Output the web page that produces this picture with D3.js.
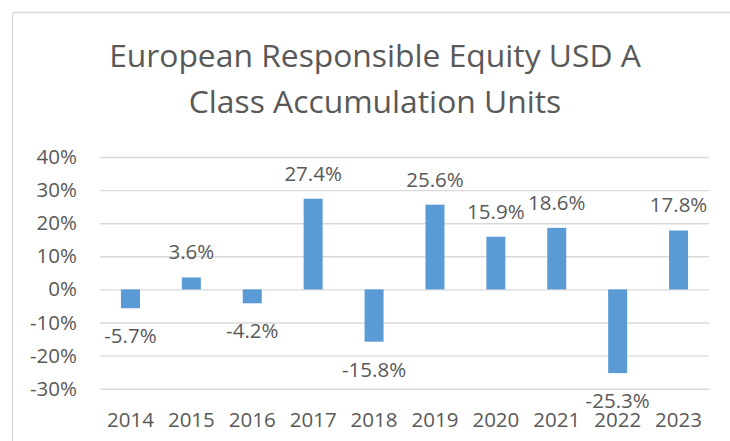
<!DOCTYPE html>
<html>
<head>
<meta charset="utf-8">
<script src="https://cdn.jsdelivr.net/npm/d3@7"></script>
<style>
  html, body { margin: 0; padding: 0; background: #fff; }
  svg { display: block; }
  text { font-family: "Open Sans", "Noto Sans", sans-serif; fill: #595959; }
</style>
</head>
<body>
<svg id="chart" width="730" height="441"></svg>
<script>
const titleLines = ["European Responsible Equity USD A", "Class Accumulation Units"];
const years = ["2014", "2015", "2016", "2017", "2018", "2019", "2020", "2021", "2022", "2023"];
const returns = [-5.7, 3.6, -4.2, 27.4, -15.8, 25.6, 15.9, 18.6, -25.3, 17.8];
const yTicks = [-30, -20, -10, 0, 10, 20, 30, 40];

const svg = d3.select("#chart");

// chart area border
svg.append("rect")
  .attr("x", 12.5).attr("y", 12.5)
  .attr("width", 740).attr("height", 460)
  .attr("rx", 2)
  .attr("fill", "#fff")
  .attr("stroke", "#d9d9d9")
  .attr("stroke-width", 1.3);

// title
svg.append("text")
  .attr("x", 375).attr("y", 67)
  .attr("text-anchor", "middle")
  .style("font-size", "31.8px")
  .selectAll("tspan")
  .data(titleLines)
  .join("tspan")
  .attr("x", 375)
  .attr("dy", (d, i) => i === 0 ? 0 : 46)
  .text(d => d);

const x = d3.scaleBand().domain(years).range([100, 709]).paddingInner(0.688).paddingOuter(0.344);
const y = d3.scaleLinear().domain([-30, 40]).range([388.7, 157]);

// gridlines
const grid = svg.append("g")
  .call(d3.axisLeft(y).tickValues(yTicks).tickSize(-609).tickFormat(""))
  .attr("transform", "translate(100,0)");
grid.select(".domain").remove();
grid.selectAll(".tick line").attr("stroke", "#d9d9d9").attr("stroke-width", 1.4);

// y-axis labels
const yAxis = svg.append("g")
  .attr("transform", "translate(77,0)")
  .call(d3.axisLeft(y).tickValues(yTicks).tickSize(0).tickPadding(0).tickFormat(d => d + "%"));
yAxis.select(".domain").remove();
yAxis.selectAll("text")
  .style("font-size", "20.5px")
  .attr("fill", "#595959")
  .style("font-family", "'Open Sans', sans-serif");

// x-axis labels
const xAxis = svg.append("g")
  .attr("transform", "translate(0,405)")
  .call(d3.axisBottom(x).tickSize(0).tickPadding(0));
xAxis.select(".domain").remove();
xAxis.selectAll("text")
  .style("font-size", "20.5px")
  .attr("fill", "#595959")
  .style("font-family", "'Open Sans', sans-serif")
  .attr("dy", "1.08em");

// bars
const data = years.map((yr, i) => ({ yr, v: returns[i] }));
svg.append("g").selectAll("rect")
  .data(data)
  .join("rect")
  .attr("x", d => x(d.yr))
  .attr("width", x.bandwidth())
  .attr("y", d => y(Math.max(0, d.v)))
  .attr("height", d => Math.abs(y(d.v) - y(0)))
  .attr("fill", "#5b9bd5");

// data labels
svg.append("g").selectAll("text")
  .data(data)
  .join("text")
  .attr("x", d => x(d.yr) + x.bandwidth() / 2)
  .attr("y", d => d.v >= 0 ? y(d.v) - 18 : y(d.v) + 35)
  .attr("text-anchor", "middle")
  .style("font-size", "20.5px")
  .text(d => d.v.toFixed(1) + "%");
</script>
</body>
</html>
